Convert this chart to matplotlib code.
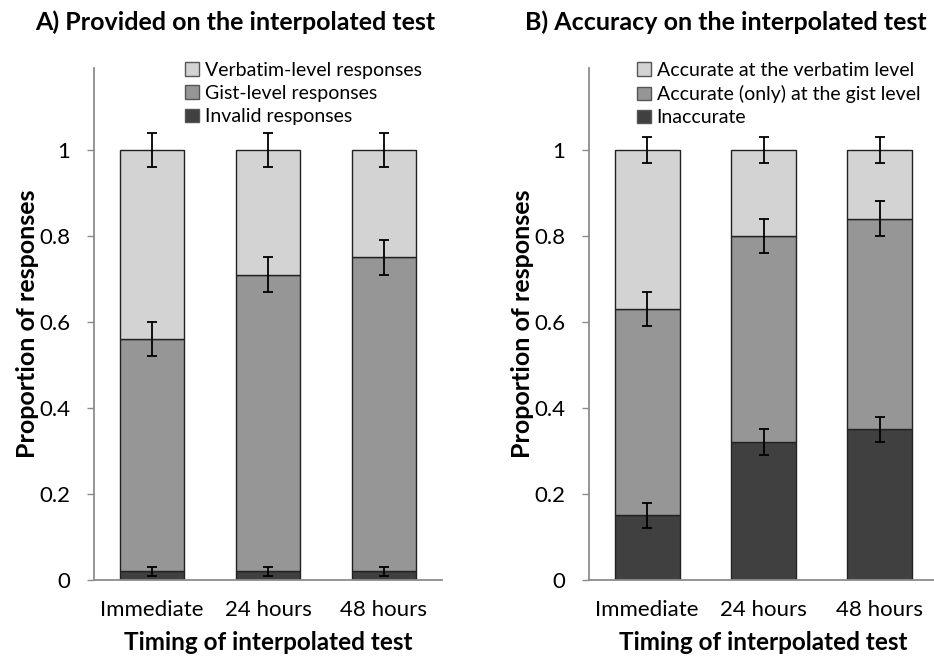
import matplotlib
matplotlib.use("Agg")
import matplotlib.pyplot as plt
from matplotlib.patches import Patch
import numpy as np

plt.rcParams['font.family'] = ['Lato', 'DejaVu Sans']

categories = ["Immediate", "24 hours", "48 hours"]

# Panel A
a_invalid = [0.02, 0.02, 0.02]
a_gist = [0.54, 0.69, 0.73]
a_verbatim = [0.44, 0.29, 0.25]
a_invalid_err = [0.01, 0.01, 0.01]
a_gist_err = [0.04, 0.04, 0.04]
a_verbatim_err = [0.04, 0.04, 0.04]
a_labels = ["Verbatim-level responses", "Gist-level responses", "Invalid responses"]

# Panel B
b_inacc = [0.15, 0.32, 0.35]
b_gist = [0.48, 0.48, 0.49]
b_verbatim = [0.37, 0.20, 0.16]
b_inacc_err = [0.03, 0.03, 0.03]
b_gist_err = [0.04, 0.04, 0.04]
b_verbatim_err = [0.03, 0.03, 0.03]
b_labels = ["Accurate at the verbatim level", "Accurate (only) at the gist level", "Inaccurate"]

titles = ["A) Provided on the interpolated test", "B) Accuracy on the interpolated test"]
yticks = [0, 0.2, 0.4, 0.6, 0.8, 1]
ytick_labels = ["0", "0.2", "0.4", "0.6", "0.8", "1"]

c_light = "#d3d3d3"
c_mid = "#969696"
c_dark = "#404040"
axis_col = "#8c8c8c"

fig = plt.figure(figsize=(9.34, 6.61), dpi=100)
W, H = 934, 661

def make_ax(left_px, right_px):
    return fig.add_axes([left_px / W, 1 - 580 / H, (right_px - left_px) / W, 512 / H])

axA = make_ax(94, 442)
axB = make_ax(589, 938)

def draw(ax, segs, errs, labels, title, legend_x, title_x):
    x = np.arange(len(categories))
    bottom = np.zeros(len(categories))
    cols = [c_dark, c_mid, c_light]
    for seg, err, col in zip(segs, errs, cols):
        seg = np.array(seg)
        ax.bar(x, seg, bottom=bottom, width=0.56, color=col, edgecolor="#222222", linewidth=1.0, zorder=2)
        top = bottom + seg
        ax.errorbar(x, top, yerr=err, fmt="none", ecolor="black", elinewidth=1.3, capsize=3.3, capthick=1.3, zorder=3)
        bottom = top
    handles = [Patch(facecolor=c, edgecolor="#555555", linewidth=1) for c in [c_light, c_mid, c_dark]]
    ax.legend(handles, labels, loc="upper left", bbox_to_anchor=(legend_x, 1.012), frameon=False,
              fontsize=14, borderaxespad=0, borderpad=0, handlelength=0.7, handleheight=0.7,
              handletextpad=0.3, labelspacing=0.32)
    ax.set_xlim(-0.5, 2.5)
    ax.set_ylim(0, 1.19)
    ax.set_yticks(yticks)
    ax.set_yticklabels(ytick_labels)
    ax.set_xticks(x)
    ax.set_xticklabels(categories)
    ax.tick_params(axis="y", length=5, width=1, color=axis_col, labelsize=16, pad=12)
    ax.tick_params(axis="x", length=0, labelsize=16, pad=14.5)
    for s in ["top", "right"]:
        ax.spines[s].set_visible(False)
    for s in ["left", "bottom"]:
        ax.spines[s].set_color(axis_col)
        ax.spines[s].set_linewidth(1.3)
    ax.set_ylabel("Proportion of responses", fontsize=18, fontweight="bold", labelpad=0)
    ax.set_xlabel("Timing of interpolated test", fontsize=17.5, fontweight="bold", labelpad=8)
    fig.text(title_x / W, 1 - 22 / H, title, fontsize=18, fontweight="bold", ha="center", va="center")

draw(axA, [a_invalid, a_gist, a_verbatim], [a_invalid_err, a_gist_err, a_verbatim_err], a_labels, titles[0], 0.262, 235)
draw(axB, [b_inacc, b_gist, b_verbatim], [b_inacc_err, b_gist_err, b_verbatim_err], b_labels, titles[1], 0.138, 726)

fig.savefig("out.png", dpi=100)
